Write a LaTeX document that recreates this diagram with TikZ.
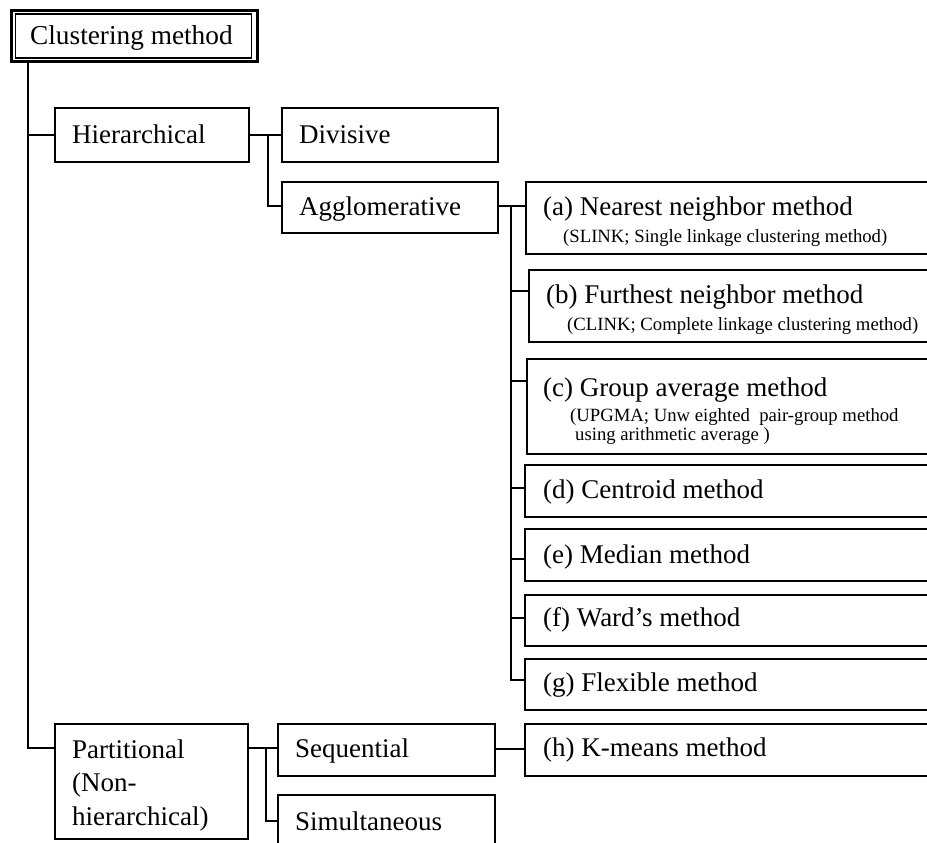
\documentclass[tikz,border=0pt]{standalone}
\usepackage{fontspec}
\setmainfont{Liberation Serif}
\begin{document}
\begin{tikzpicture}[x=1pt,y=-1pt,
  box/.style={draw, line width=1.8pt, anchor=north west, inner sep=0pt, outer sep=0pt},
  lbl/.style={anchor=base west, inner sep=0pt, font=\fontsize{27}{34}\selectfont},
  note/.style={anchor=base west, inner sep=0pt, align=left, font=\fontsize{18.7}{19}\selectfont},
  link/.style={line width=1.8pt}]
\useasboundingbox (0,0) rectangle (927,843);
\clip (0,0) rectangle (927,843);

% root box with a double frame
\node[box, line width=3pt, minimum width=245.5pt, minimum height=51.5pt] (root) at (11.5,10.5) {};
\draw[line width=1.3pt] ([shift={(4,3.5)}]root.north west) rectangle ([shift={(-5.5,-4)}]root.south east);

% first and second level
\node[box, minimum width=194pt, minimum height=54pt] (hier) at (55,108) {};
\node[box, minimum width=216pt, minimum height=54pt] (div) at (282,108) {};
\node[box, minimum width=216pt, minimum height=51pt] (agg) at (282,182) {};
\node[box, minimum width=193pt, minimum height=115pt] (part) at (55,724) {};
\node[box, minimum width=217pt, minimum height=52pt] (seq) at (278,724) {};
\node[box, minimum width=217pt, minimum height=80pt] (sim) at (278,795) {};

% method boxes (run past the right edge)
\node[box, minimum width=430pt, minimum height=72pt] (a) at (526,182) {};
\node[box, minimum width=430pt, minimum height=72pt] (b) at (529,270) {};
\node[box, minimum width=430pt, minimum height=95pt] (c) at (527,359) {};
\node[box, minimum width=430pt, minimum height=52pt] (d) at (525,465) {};
\node[box, minimum width=430pt, minimum height=52pt] (e) at (525,529) {};
\node[box, minimum width=430pt, minimum height=51pt] (f) at (525,595) {};
\node[box, minimum width=430pt, minimum height=51pt] (g) at (525,659) {};
\node[box, minimum width=430pt, minimum height=52pt] (h) at (525,724) {};

% junction points
\coordinate (t1) at (28,135);
\coordinate (t2) at (28,748);
\coordinate (h1) at (268,135);
\coordinate (h2) at (268,206);
\coordinate (s0) at (511,206);
\coordinate (sb) at (511,291);
\coordinate (sc) at (511,381);
\coordinate (sd) at (511,488);
\coordinate (se) at (511,559);
\coordinate (sf) at (511,618);
\coordinate (sg) at (511,680);
\coordinate (p1) at (266,748);
\coordinate (p2) at (266,821);
\coordinate (q1) at (495,749);

% connectors
\draw[link] (t1 |- root.south) -- (t2) -- (t2 -| part.west);
\draw[link] (t1) -- (t1 -| hier.west);
\draw[link] (hier.east |- h1) -- (h1 -| div.west);
\draw[link] (h1) -- (h2) -- (h2 -| agg.west);
\draw[link] (agg.east |- s0) -- (s0 -| a.west);
\draw[link] (s0) -- (sg) -- (sg -| g.west);
\draw[link] (sb) -- (sb -| b.west);
\draw[link] (sc) -- (sc -| c.west);
\draw[link] (sd) -- (sd -| d.west);
\draw[link] (se) -- (se -| e.west);
\draw[link] (sf) -- (sf -| f.west);
\draw[link] (part.east |- p1) -- (p1 -| seq.west);
\draw[link] (p1) -- (p2) -- (p2 -| sim.west);
\draw[link] (seq.east |- q1) -- (q1 -| h.west);

% labels (multi-line labels are placed by their last baseline)
\node[lbl, font=\fontsize{27.3}{34}\selectfont] (rootT) at (30,45) {Clustering method};
\node[lbl] (hierT) at (72,143) {Hierarchical};
\node[lbl] (divT) at (299,143) {Divisive};
\node[lbl] (aggT) at (299,215) {Agglomerative};
\node[lbl] (aT) at (543,215) {(a) Nearest neighbor method};
\node[note] (aN) at (563,242) {(SLINK; Single linkage clustering method)};
\node[lbl] (bT) at (546,303) {(b) Furthest neighbor method};
\node[note] (bN) at (567,330) {(CLINK; Complete linkage clustering method)};
\node[lbl] (cT) at (543,396) {(c) Group average method};
\node[note] (cN) at (570,440) {(UPGMA; Unw eighted \ pair-group method\\\hspace{5pt}using arithmetic average )};
\node[lbl] (dT) at (543,498) {(d) Centroid method};
\node[lbl] (eT) at (543,563) {(e) Median method};
\node[lbl] (fT) at (543,626) {(f) Ward’s method};
\node[lbl] (gT) at (543,691) {(g) Flexible method};
\node[lbl] (hT) at (543,756) {(h) K-means method};
\node[lbl, align=left, font=\fontsize{27}{33.5}\selectfont] (partT) at (72,825) {Partitional\\(Non-\\hierarchical)};
\node[lbl] (seqT) at (295,757) {Sequential};
\node[lbl] (simT) at (295,830) {Simultaneous};
\end{tikzpicture}
\end{document}
